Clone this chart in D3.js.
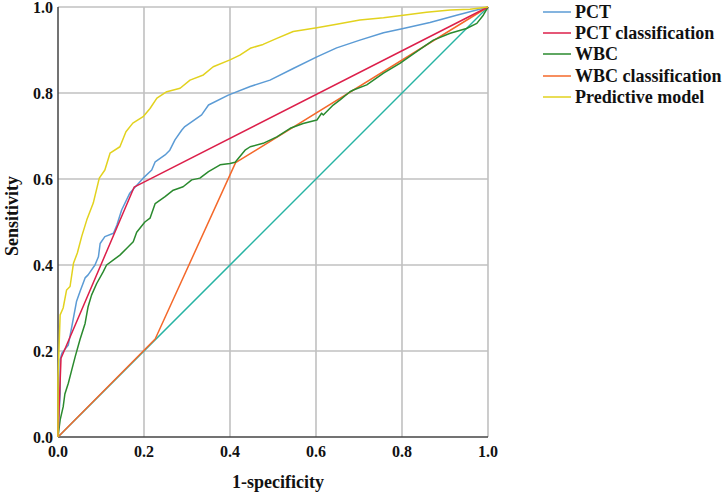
<!DOCTYPE html>
<html><head><meta charset="utf-8">
<script src="https://cdn.jsdelivr.net/npm/d3@7"></script>
<style>body{margin:0;background:#fff}svg{display:block}</style>
</head><body>
<script>
const xTicks = [0, 0.2, 0.4, 0.6, 0.8, 1.0];
const yTicks = [0, 0.2, 0.4, 0.6, 0.8, 1.0];
const seriesNames = ["PCT", "PCT classification", "WBC", "WBC classification", "Predictive model"];
const seriesColors = ["#5b9bd5", "#dc1f4a", "#2a8a2e", "#f4682a", "#e2d21e"];
const refColor = "#26b3a3";

const pct = [[0,0],[0.005,0.10],[0.005,0.18],[0.009,0.195],[0.024,0.214],[0.032,0.256],[0.043,0.315],[0.051,0.338],[0.063,0.37],[0.07,0.377],[0.086,0.40],[0.094,0.419],[0.098,0.45],[0.109,0.466],[0.129,0.474],[0.137,0.493],[0.148,0.528],[0.167,0.567],[0.179,0.581],[0.198,0.602],[0.218,0.621],[0.226,0.64],[0.249,0.656],[0.26,0.667],[0.272,0.691],[0.288,0.714],[0.295,0.722],[0.334,0.749],[0.35,0.772],[0.396,0.795],[0.447,0.815],[0.493,0.830],[0.547,0.857],[0.602,0.884],[0.648,0.905],[0.702,0.923],[0.757,0.94],[0.803,0.95],[0.865,0.964],[0.927,0.981],[1,1]];
const pctClass = [[0,0],[0.007,0.183],[0.177,0.581],[1,1]];
const wbc = [[0,0],[0.005,0.04],[0.012,0.07],[0.016,0.10],[0.024,0.125],[0.032,0.156],[0.04,0.187],[0.051,0.226],[0.063,0.264],[0.07,0.303],[0.078,0.33],[0.09,0.357],[0.105,0.384],[0.113,0.40],[0.129,0.412],[0.144,0.423],[0.16,0.439],[0.175,0.454],[0.183,0.476],[0.202,0.50],[0.214,0.509],[0.226,0.543],[0.249,0.559],[0.268,0.574],[0.291,0.582],[0.311,0.598],[0.33,0.602],[0.35,0.617],[0.377,0.633],[0.40,0.636],[0.412,0.639],[0.435,0.667],[0.447,0.675],[0.477,0.683],[0.509,0.698],[0.54,0.718],[0.57,0.729],[0.602,0.737],[0.613,0.753],[0.617,0.749],[0.64,0.772],[0.656,0.784],[0.679,0.803],[0.687,0.807],[0.718,0.819],[0.757,0.846],[0.795,0.869],[0.834,0.896],[0.873,0.923],[0.912,0.939],[0.95,0.95],[0.974,0.962],[0.989,0.981],[1,1]];
const wbcClass = [[0,0],[0.226,0.228],[0.413,0.638],[1,1]];
const model = [[0,0],[0,0.137],[0.005,0.284],[0.012,0.30],[0.02,0.342],[0.028,0.35],[0.036,0.404],[0.045,0.428],[0.055,0.466],[0.067,0.505],[0.082,0.544],[0.096,0.602],[0.109,0.621],[0.121,0.66],[0.144,0.675],[0.158,0.71],[0.174,0.73],[0.198,0.745],[0.214,0.764],[0.23,0.788],[0.253,0.803],[0.284,0.811],[0.307,0.83],[0.338,0.842],[0.361,0.861],[0.40,0.877],[0.423,0.888],[0.447,0.904],[0.477,0.913],[0.509,0.927],[0.547,0.943],[0.602,0.952],[0.648,0.96],[0.702,0.97],[0.757,0.975],[0.803,0.981],[0.857,0.988],[0.912,0.993],[0.958,0.995],[1,1]];
const reference = [[0,0],[1,1]];

const W = 726, H = 499;
const pL = 58, pR = 488, pT = 7, pB = 437;
const svg = d3.select("body").append("svg").attr("width", W).attr("height", H);
const x = d3.scaleLinear().domain([0,1]).range([pL, pR]);
const y = d3.scaleLinear().domain([0,1]).range([pB, pT]);
const font = "'Liberation Serif','Times New Roman',serif";

// grid
const g = svg.append("g");
g.selectAll(".vx").data(xTicks.filter(d=>d>0)).enter().append("line")
  .attr("x1", d=>x(d)).attr("x2", d=>x(d)).attr("y1", pT).attr("y2", pB)
  .attr("stroke", "#c0c0c0").attr("stroke-width", 1.6);
g.selectAll(".hy").data(yTicks.filter(d=>d>0)).enter().append("line")
  .attr("x1", pL).attr("x2", pR).attr("y1", d=>y(d)).attr("y2", d=>y(d))
  .attr("stroke", "#c0c0c0").attr("stroke-width", 1.6);

// axes lines
svg.append("line").attr("x1", pL).attr("x2", pR).attr("y1", pB).attr("y2", pB).attr("stroke", "#444").attr("stroke-width", 1.5);
svg.append("line").attr("x1", pL).attr("x2", pL).attr("y1", pT).attr("y2", pB).attr("stroke", "#444").attr("stroke-width", 1.5);

// tick labels
svg.selectAll(".xt").data(xTicks).enter().append("text")
  .attr("x", d=>x(d)).attr("y", pB + 20).attr("text-anchor", "middle")
  .style("font-family", font).style("font-weight", "bold").style("font-size", "16px").attr("fill", "#111")
  .text(d=>d3.format(".1f")(d));
svg.selectAll(".yt").data(yTicks).enter().append("text")
  .attr("x", pL - 5).attr("y", d=>y(d) + 6).attr("text-anchor", "end")
  .style("font-family", font).style("font-weight", "bold").style("font-size", "16px").attr("fill", "#111")
  .text(d=>d3.format(".1f")(d));

svg.append("text").attr("x", 278).attr("y", 488).attr("text-anchor", "middle")
  .style("font-family", font).style("font-weight", "bold").style("font-size", "18px").attr("fill", "#111")
  .text("1-specificity");
svg.append("text").attr("transform", "translate(18,216) rotate(-90)").attr("text-anchor", "middle")
  .style("font-family", font).style("font-weight", "bold").style("font-size", "18px").attr("fill", "#111")
  .text("Sensitivity");

// curves
const line = d3.line().x(d=>x(d[0])).y(d=>y(d[1]));
svg.append("path").datum(reference).attr("d", line).attr("fill","none").attr("stroke", refColor).attr("stroke-width", 1.5);
const allSeries = [pct, pctClass, wbc, wbcClass, model];
const drawOrder = [3, 2, 0, 1, 4];
drawOrder.forEach(i => {
  svg.append("path").datum(allSeries[i]).attr("d", line).attr("fill","none")
    .attr("stroke", seriesColors[i]).attr("stroke-width", 1.5).attr("stroke-linejoin","round");
});

// legend
const ly = [12, 33, 54, 76, 97];
const lg = svg.append("g");
seriesNames.forEach((n, i) => {
  lg.append("line").attr("x1", 543).attr("x2", 571).attr("y1", ly[i]).attr("y2", ly[i])
    .attr("stroke", seriesColors[i]).attr("stroke-width", 1.5);
  lg.append("text").attr("x", 575).attr("y", ly[i] + 6)
    .style("font-family", font).style("font-weight", "bold").style("font-size", "18px").attr("fill", "#111")
    .text(n);
});
</script>
</body></html>
